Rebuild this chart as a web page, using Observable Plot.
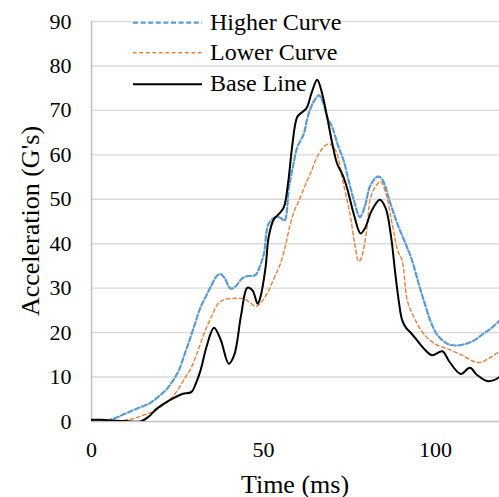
<!DOCTYPE html>
<html><head><meta charset="utf-8">
<script src="https://cdn.jsdelivr.net/npm/d3@7"></script>
<script src="https://cdn.jsdelivr.net/npm/@observablehq/plot@0.6"></script>
<style>body{margin:0;background:#fff} svg text{font-family:"Liberation Serif","Times New Roman",serif !important;}</style>
</head><body><div id="chart"></div>
<script>
// Time (ms) and acceleration (G's)
const higherT = [0,3,6,8.5,10.8,13.5,16.7,19,21.5,23.5,25.4,27,28.8,30.3,31.7,33.5,35.1,36.5,37.5,38.7,40.4,42,43.5,44.8,46.5,47.7,49,50.1,51.5,53.5,55,56.1,57.4,58.6,59.8,61.7,62.7,63.7,65,66.1,67.2,68.5,70,71.7,73.3,74.8,76.3,78,79.5,81,83.2,84.5,86.5,88.9,91.3,93.2,95.1,96.6,98.5,100.5,103.4,105.8,108.5,111.1,114,116.5,118.6];
const higherV = [0.2,0.2,0.5,1.3,2.1,3,4,5.3,7,9,11.5,15,19,22.5,25.7,28.5,31,32.8,33.2,32.3,29.9,30.5,32,32.6,32.8,33,35,37.7,44.5,46,45.8,45.2,52.7,57.5,61.7,64.7,68.1,70.5,72.5,73.4,72,68.5,66.2,62,58.7,54,49.7,46,48.5,53,55.1,54.5,50,44.5,40,36.2,31,27.2,22.7,19.5,17.5,17.1,17.4,18.2,19.8,21.2,22.7];

const lowerT = [0,4,8,10.5,12.8,15,17.6,20,22.5,25,27.3,28.8,30,31.2,33.1,35.1,36.8,38.5,41.4,44.3,46,47.7,49.5,51.5,53.2,54.9,56.5,57.8,59,60.3,61.5,62.7,64,65.1,67,69,70.3,71.4,72.8,74.3,75.3,76.5,77.7,78.5,80.1,81,82.3,84,85.5,87.4,89,90.3,91.8,93.7,96,98.5,101,103.4,106,108.5,111.1,113,115.5,118.6];
const lowerV = [-0.1,-0.1,0.1,0.4,0.8,1.4,2.1,3.2,4.7,7,10,11.8,14,16.5,20.5,24,26.5,27.4,27.7,27.6,26.8,25.9,27,29.5,32.5,35.5,40,44.5,47.5,49.7,52,54.2,56.5,58.7,61.3,62.5,61.8,60.2,55,49.7,46,40,36,37,43.7,50,52.5,54,51.5,44.5,38.5,36.2,27.2,23.5,20.3,18.2,17,16.4,15.5,14.6,13.5,13.3,14.2,15.8];

const baseT = [0,3,6,10,14.2,16.5,19,22.5,26.4,29,30.3,31.7,33.5,35.6,37.5,39.9,41.5,43.5,45.3,46.8,48.3,49.1,50.6,51.5,53,54.5,55.9,57.2,58.3,59.8,61.2,62.5,64,65.6,66.8,68.5,70,71.4,73,74.3,76.3,78.2,79.5,81.5,83.8,85.5,87.1,88.2,89.3,90.3,91.5,93,94.7,96.5,99,102,104,107.3,110,112,115,117,118.6];
const baseV = [0.4,0.4,0.2,0.1,0,1,2.9,4.7,6.2,6.6,8.5,11.5,17,21.1,18.5,13,15,24,30.1,29.5,26.5,28,34.7,41.5,45.5,46.7,48.2,54,61.7,68.5,69.6,70.5,74,76.9,74.5,68.5,62.5,58,55.5,52.5,46.5,42.3,43.5,47.5,49.9,48,41.5,34,27.2,22.8,21,19.8,18.2,16.5,14.9,15.8,13.5,10.7,12.1,10.5,9.1,9.3,10];

const seriesNames = ["Higher Curve", "Lower Curve", "Base Line"];
const seriesColors = ["#5B9BD5", "#ED7D31", "#000000"];
const seriesDash = ["5,2.6", "3.5,3", null];
const seriesWidth = [2.2, 1.4, 2];
const yTicks = [0,10,20,30,40,50,60,70,80,90];
const xTicks = [0,50,100];
const xLabel = "Time (ms)";
const yLabel = "Acceleration (G's)";
const serif = "'Liberation Serif', 'Times New Roman', serif";

const rows = (ts, vs) => ts.map((t, i) => ({t, v: vs[i]}));
const seriesData = [rows(higherT, higherV), rows(lowerT, lowerV), rows(baseT, baseV)];

const chart = Plot.plot({
  width: 499, height: 497,
  marginLeft: 91, marginRight: 0, marginTop: 21, marginBottom: 76,
  style: {fontFamily: serif, fontSize: "22px", background: "white", color: "black", overflow: "visible"},
  x: {domain: [0, 118.6]},
  y: {domain: [0, 90]},
  marks: [
    Plot.gridY(yTicks.filter(d => d > 0), {stroke: "#d9d9d9", strokeOpacity: 1, strokeWidth: 1.4}),
    Plot.axisY(yTicks, {tickSize: 0, tickPadding: 20, label: null, fontSize: 22, fontFamily: serif}),
    Plot.axisX(xTicks, {tickSize: 0, tickPadding: 20, label: null, fontSize: 22, fontFamily: serif}),
    Plot.ruleY([0], {stroke: "#bfbfbf", strokeWidth: 1.5}),
    Plot.ruleX([0], {stroke: "#bfbfbf", strokeWidth: 1.5}),
    ...seriesData.map((d, i) => Plot.line(d, {x: "t", y: "v", stroke: seriesColors[i], strokeWidth: seriesWidth[i], strokeDasharray: seriesDash[i], curve: "catmull-rom", clip: true}))
  ]
});

const svg = d3.select(chart);
// axis titles
svg.append("text").attr("x", 295).attr("y", 492.5).attr("text-anchor", "middle")
  .attr("font-family", serif).attr("font-size", 26).attr("fill", "black").text(xLabel);
svg.append("text").attr("transform", "translate(39,221) rotate(-90)").attr("text-anchor", "middle")
  .attr("font-family", serif).attr("font-size", 26).attr("fill", "black").text(yLabel);
// legend
svg.append("rect").attr("x", 133).attr("y", 17).attr("width", 207).attr("height", 8).attr("fill", "white");
const lg = svg.append("g");
seriesNames.forEach((name, i) => {
  const cy = [22.7, 52.7, 84.3][i];
  lg.append("line").attr("x1", 133).attr("x2", 202).attr("y1", cy).attr("y2", cy)
    .attr("stroke", seriesColors[i]).attr("stroke-width", seriesWidth[i])
    .attr("stroke-dasharray", seriesDash[i]);
  lg.append("text").attr("x", 210).attr("y", [30, 59.5, 90.7][i]).attr("text-anchor", "start")
    .attr("font-family", serif).attr("font-size", 24).attr("fill", "black").text(name);
});
document.getElementById("chart").append(chart);
</script>
</body></html>
